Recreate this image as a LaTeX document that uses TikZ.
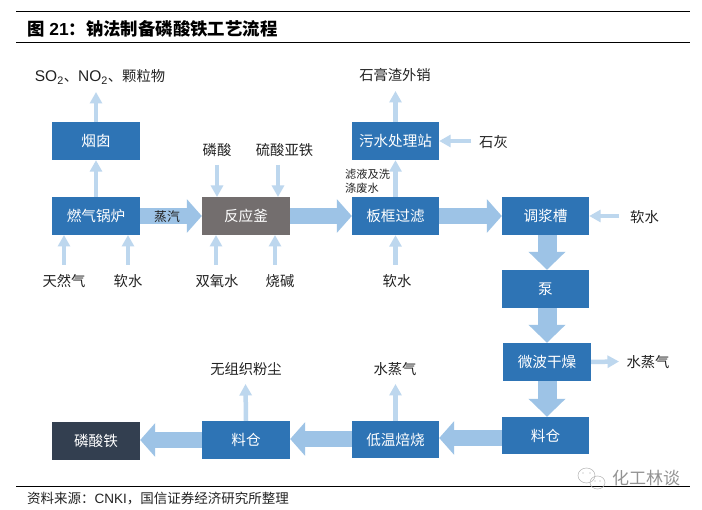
\documentclass[tikz,border=0pt]{standalone}
\usepackage{fontspec}
\setmainfont{Noto Sans CJK SC}
\newfontfamily\latinf{Liberation Sans}
\usetikzlibrary{arrows.meta}
\definecolor{boxblue}{HTML}{2E74B5}
\definecolor{boxgray}{HTML}{736E6E}
\definecolor{boxdark}{HTML}{333F50}
\definecolor{bigflow}{HTML}{9DC3E6}
\definecolor{thinflow}{HTML}{BDD7EE}
\definecolor{labelc}{HTML}{222222}
\tikzset{
  proc/.style={draw=none,fill=boxblue,text=white,minimum width=88pt,minimum height=38pt,inner sep=0pt,font=\fontsize{14.6}{18}\selectfont},
  lab/.style={inner sep=0pt,text=labelc,font=\fontsize{14.3}{17}\selectfont},
  bigarrow/.style={line width=16pt,draw=bigflow,-{Triangle[length=15pt,width=33pt]}},
  downarrow/.style={line width=19pt,draw=bigflow,-{Triangle[length=18pt,width=36pt]}},
  thinarrow/.style={line width=4.5pt,draw=thinflow,-{Triangle[length=11.5pt,width=12pt]}},
  rulel/.style={line width=0.9pt,black}
}
\begin{document}
\begin{tikzpicture}[x=1pt,y=-1pt]
\useasboundingbox (0,0) rectangle (702,510);
\fill[white] (0,0) rectangle (702,510);
% rules
\coordinate (r1a) at (16,11.5); \coordinate (r1b) at (690,11.5);
\coordinate (r2a) at (16,42.5); \coordinate (r2b) at (690,42.5);
\coordinate (r3a) at (16,486.5); \coordinate (r3b) at (690,486.5);
\draw[rulel] (r1a)--(r1b); \draw[rulel] (r2a)--(r2b); \draw[rulel] (r3a)--(r3b);
\node[anchor=west,inner sep=0pt,font=\fontsize{17.4}{20}\selectfont\bfseries] (title) at (27,28.5) {图{\latinf\ 21}：钠法制备磷酸铁工艺流程};
\node[anchor=west,inner sep=0pt,font=\fontsize{13.5}{16}\selectfont,text=labelc] (source) at (27,498.5) {资料来源：{\latinf CNKI}，国信证券经济研究所整理};
% boxes
\node[proc] (yc) at (96,141) {烟囱};
\node[proc] (gl) at (96,216) {燃气锅炉};
\node[proc,fill=boxgray] (fy) at (246,216) {反应釜};
\node[proc,minimum width=87pt] (bk) at (395.5,216) {板框过滤};
\node[proc,minimum width=87pt] (ws) at (395.5,141) {污水处理站};
\node[proc,minimum width=87pt] (tj) at (545.5,216) {调浆槽};
\node[proc,minimum width=87pt] (pump) at (545.5,289) {泵};
\node[proc] (wb) at (547,362) {微波干燥};
\node[proc,minimum width=87pt,minimum height=37pt] (lc1) at (545.5,435.5) {料仓};
\node[proc,minimum width=87pt,minimum height=37pt] (dw) at (395.5,439.5) {低温焙烧};
\node[proc] (lc2) at (246,440) {料仓};
\node[proc,fill=boxdark] (lst) at (96,441) {磷酸铁};
% labels
\node[lab] (t1) at (100,77) {{\latinf\fontsize{15.5}{17}\selectfont SO\textsubscript{2}}、{\latinf\fontsize{15.5}{17}\selectfont NO\textsubscript{2}}、颗粒物};
\node[lab] (t2) at (217,150) {磷酸};
\node[lab] (t3) at (284.5,150) {硫酸亚铁};
\node[lab] (t4) at (64,281) {天然气};
\node[lab] (t5) at (128,281) {软水};
\node[lab] (t6) at (217,281) {双氧水};
\node[lab] (t7) at (280,281) {烧碱};
\node[lab] (t8) at (395,75.5) {石膏渣外销};
\node[lab] (t9) at (493.5,142) {石灰};
\node[lab] (t10) at (397,281) {软水};
\node[lab] (t11) at (644.5,217) {软水};
\node[lab] (t12) at (648,362) {水蒸气};
\node[lab] (t13) at (395,369) {水蒸气};
\node[lab] (t14) at (246,369) {无组织粉尘};
\node[lab,align=left,anchor=west,font=\fontsize{11.2}{14.5}\selectfont] (t15) at (345,181.5) {滤液及洗\\涤废水};
% free ends
\coordinate (a1) at (96,92);
\coordinate (b1) at (217,165); \coordinate (b1e) at (217,197);
\coordinate (b2) at (278,165); \coordinate (b2e) at (278,197);
\coordinate (c1) at (64,265); \coordinate (c1e) at (64,235);
\coordinate (c2) at (128,265); \coordinate (c2e) at (128,235);
\coordinate (c3) at (216,265); \coordinate (c3e) at (216,235);
\coordinate (c4) at (275,265); \coordinate (c4e) at (275,235);
\coordinate (c5) at (395.5,265);
\coordinate (d1) at (395.5,91);
\coordinate (d2) at (471,141);
\coordinate (d3) at (619,216);
\coordinate (d4) at (619,361.5);
\coordinate (d5) at (395.5,384);
\coordinate (d6) at (245.5,384);
% thin
\draw[thinarrow] (yc.north) -- (a1);
\draw[thinarrow] (gl.north) -- (yc.south);
\draw[thinarrow] (b1) -- (b1e);
\draw[thinarrow] (b2) -- (b2e);
\draw[thinarrow] (c1) -- (c1e);
\draw[thinarrow] (c2) -- (c2e);
\draw[thinarrow] (c3) -- (c3e);
\draw[thinarrow] (c4) -- (c4e);
\draw[thinarrow] (c5) -- (bk.south);
\draw[thinarrow] (bk.north) -- (ws.south);
\draw[thinarrow] (ws.north) -- (d1);
\draw[thinarrow] (d2) -- (ws.east);
\draw[thinarrow] (d3) -- (tj.east);
\draw[thinarrow] (wb.east) -- (d4);
\draw[thinarrow] (dw.north) -- (d5);
\draw[thinarrow] (lc2.north) -- (d6);
% big
\coordinate (y1) at (0,438); \coordinate (y2) at (0,439); \coordinate (y3) at (0,440);
\draw[bigarrow] (gl.east) -- (fy.west) node[midway,text=labelc,font=\fontsize{12.8}{15}\selectfont,xshift=-4pt,yshift=-1pt] (zq) {蒸汽};
\draw[bigarrow] (fy.east) -- (bk.west);
\draw[bigarrow] (bk.east) -- (tj.west);
\draw[downarrow] (tj.south-|wb.north) -- (pump.north-|wb.north);
\draw[downarrow] (pump.south-|wb.north) -- (wb.north);
\draw[downarrow] (wb.south) -- (lc1.north-|wb.south);
\draw[bigarrow] (lc1.west|-y1) -- (dw.east|-y1);
\draw[bigarrow] (dw.west|-y2) -- (lc2.east|-y2);
\draw[bigarrow] (lc2.west|-y3) -- (lst.east|-y3);
% watermark
\begin{scope}[draw=gray!60,line width=0.5pt]
\draw (586.5,475.5) ellipse (8.5 and 7.5);
\draw (597.5,482.5) ellipse (7.5 and 6.5);
\fill[gray!70] (583,473) circle (0.7) (590,473) circle (0.7) (595,481) circle (0.6) (600,481) circle (0.6);
\end{scope}
\node[inner sep=0pt,text=gray!85,font=\fontsize{17}{20}\selectfont] (wm) at (646,478.5) {化工林谈};
\end{tikzpicture}
\end{document}
